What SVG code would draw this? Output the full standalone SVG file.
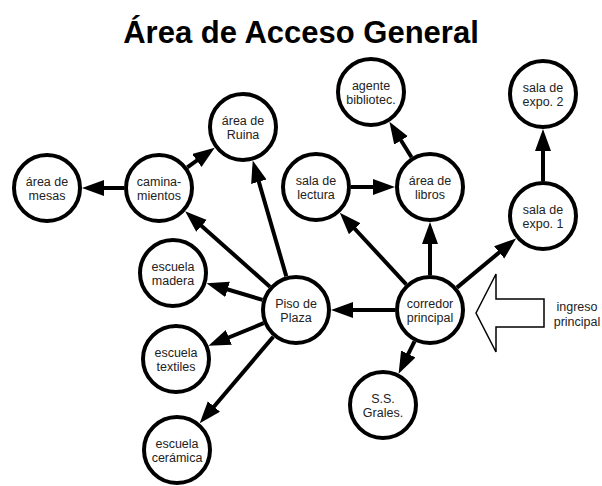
<svg xmlns="http://www.w3.org/2000/svg" width="602" height="486" viewBox="0 0 602 486">
<defs>
<style>
.node circle{fill:#fff;stroke:#000;stroke-width:4}
.node text,.lbl{font-family:"Liberation Sans",Arial,sans-serif;font-size:12.5px;fill:#222;text-anchor:middle}
.edges line{stroke:#000;stroke-width:4;marker-end:url(#ah)}
.title{font-family:"Liberation Sans",Arial,sans-serif;font-size:31px;font-weight:bold;text-anchor:middle;fill:#000}
</style>
<marker id="ah" markerUnits="userSpaceOnUse" markerWidth="24" markerHeight="18" refX="12" refY="8" orient="auto" viewBox="0 0 24 18">
<path d="M0,0 L22,8 L0,16 z" fill="#000"/>
</marker>
</defs>
<rect width="602" height="486" fill="#fff"/>
<text class="title" x="301" y="43">Área de Acceso General</text>
<g class="edges" id="connectors">
<line x1="124" y1="188" x2="92" y2="188"/>
<line x1="187.3" y1="167.4" x2="206.6" y2="153.5"/>
<line x1="286.3" y1="276.4" x2="255.5" y2="170.2"/>
<line x1="269.9" y1="286.7" x2="192.6" y2="217.9"/>
<line x1="262.5" y1="299.9" x2="216.1" y2="286"/>
<line x1="263.6" y1="323.2" x2="217.7" y2="342"/>
<line x1="273.3" y1="336.7" x2="206.2" y2="415.7"/>
<line x1="395" y1="310" x2="341" y2="310"/>
<line x1="406.2" y1="284.3" x2="346.6" y2="220"/>
<line x1="430" y1="275" x2="430" y2="232"/>
<line x1="456.9" y1="287.6" x2="508.4" y2="244.8"/>
<line x1="414.5" y1="341.4" x2="403" y2="364.7"/>
<line x1="351" y1="187" x2="385" y2="187"/>
<line x1="411.5" y1="157.3" x2="394.7" y2="130.2"/>
<line x1="543" y1="181" x2="543" y2="139"/>
</g>
<g class="node" id="area-mesas"><circle cx="47" cy="188" r="33"/><text x="47" y="185.5">área de</text><text x="47" y="200">mesas</text></g>
<g class="node" id="caminamientos"><circle cx="159" cy="188" r="33"/><text x="159" y="185.5">camina-</text><text x="159" y="200">mientos</text></g>
<g class="node" id="area-ruina"><circle cx="243" cy="127" r="33"/><text x="243" y="124.5">área de</text><text x="243" y="139">Ruina</text></g>
<g class="node" id="agente"><circle cx="371" cy="92" r="33"/><text x="371" y="89.5">agente</text><text x="371" y="104">bibliotec.</text></g>
<g class="node" id="expo2"><circle cx="543" cy="94" r="33"/><text x="543" y="91.5">sala de</text><text x="543" y="106">expo. 2</text></g>
<g class="node" id="lectura"><circle cx="316" cy="187" r="33"/><text x="316" y="184.5">sala de</text><text x="316" y="199">lectura</text></g>
<g class="node" id="libros"><circle cx="430" cy="187" r="33"/><text x="430" y="184.5">área de</text><text x="430" y="199">libros</text></g>
<g class="node" id="expo1"><circle cx="543" cy="216" r="33"/><text x="543" y="213.5">sala de</text><text x="543" y="228">expo. 1</text></g>
<g class="node" id="madera"><circle cx="173" cy="273" r="33"/><text x="173" y="270.5">escuela</text><text x="173" y="285">madera</text></g>
<g class="node" id="piso"><circle cx="296" cy="310" r="33"/><text x="296" y="307.5">Piso de</text><text x="296" y="322">Plaza</text></g>
<g class="node" id="corredor"><circle cx="430" cy="310" r="33"/><text x="430" y="307.5">corredor</text><text x="430" y="322">principal</text></g>
<g class="node" id="textiles"><circle cx="176" cy="359" r="33"/><text x="176" y="356.5">escuela</text><text x="176" y="371">textiles</text></g>
<g class="node" id="ss"><circle cx="383" cy="405" r="33"/><text x="383" y="402.5">S.S.</text><text x="383" y="417">Grales.</text></g>
<g class="node" id="ceramica"><circle cx="177" cy="450" r="33"/><text x="177" y="447.5">escuela</text><text x="177" y="462">cerámica</text></g>
<g id="ingreso">
<polygon points="476,313 496,274 496,299 544,299 544,327 496,327 496,352" fill="#fff" stroke="#000" stroke-width="1.5"/>
<text class="lbl" x="577" y="311">ingreso</text>
<text class="lbl" x="577" y="326">principal</text>
</g>
</svg>
